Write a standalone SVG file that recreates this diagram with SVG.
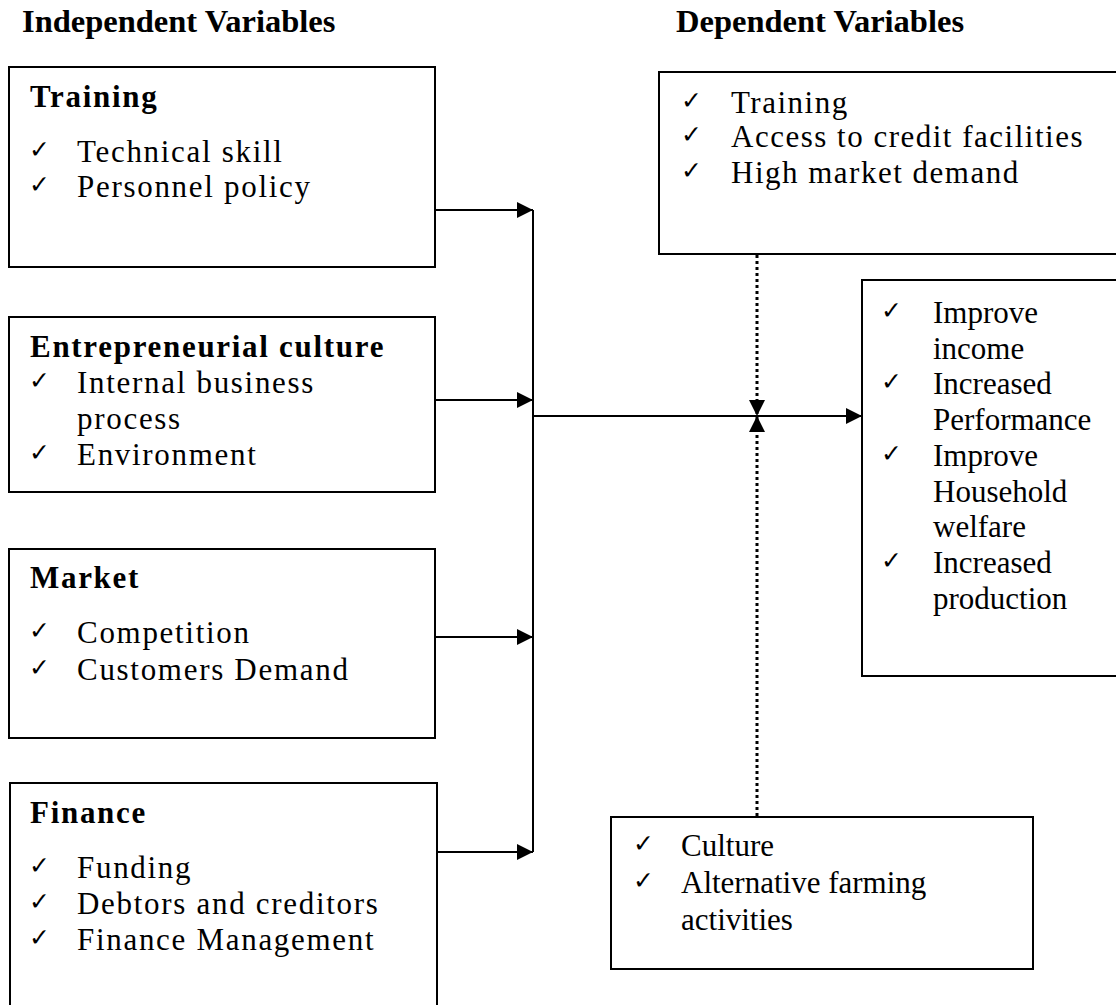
<svg xmlns="http://www.w3.org/2000/svg" width="1116" height="1005" viewBox="0 0 1116 1005">
<defs>
<style>
.box{fill:#fff;stroke:#000;stroke-width:2}
.t{font-family:"Liberation Serif","Times New Roman",serif;font-size:31px;fill:#000}
.sp{letter-spacing:1.7px}
.sp2{letter-spacing:1.5px}
.b{font-weight:bold}
.h{font-family:"Liberation Serif","Times New Roman",serif;font-size:32.5px;font-weight:bold;fill:#000}
.ck{font-family:"DejaVu Sans",sans-serif;font-size:25px;font-weight:bold;fill:#000}
.ln{stroke:#000;stroke-width:2;fill:none}
.dot{stroke:#000;stroke-width:3;stroke-dasharray:3 3;fill:none}
</style>
<marker id="ah" viewBox="0 0 16 16" refX="16" refY="8" markerWidth="16" markerHeight="16" markerUnits="userSpaceOnUse" orient="auto">
<path d="M0,0 L16,8 L0,16 Z" fill="#000"/>
</marker>
</defs>
<rect width="1116" height="1005" fill="#fff"/>
<text class="h" x="22" y="32">Independent Variables</text>
<text class="h" x="676" y="32">Dependent Variables</text>

<g id="training">
<rect class="box" x="9" y="67" width="426" height="200"/>
<text class="t b sp" x="30" y="107">Training</text>
<text class="ck" x="29" y="158">✓</text><text class="t sp" x="77" y="162">Technical skill</text>
<text class="ck" x="29" y="193">✓</text><text class="t sp" x="77" y="197">Personnel policy</text>
</g>

<g id="entrepreneurial">
<rect class="box" x="9" y="317" width="426" height="175"/>
<text class="t b sp" x="30" y="357">Entrepreneurial culture</text>
<text class="ck" x="29" y="389">✓</text><text class="t sp" x="77" y="393">Internal business</text>
<text class="t sp" x="77" y="429">process</text>
<text class="ck" x="29" y="461">✓</text><text class="t sp" x="77" y="465">Environment</text>
</g>

<g id="market">
<rect class="box" x="9" y="549" width="426" height="189"/>
<text class="t b sp" x="30" y="588">Market</text>
<text class="ck" x="29" y="639">✓</text><text class="t sp" x="77" y="643">Competition</text>
<text class="ck" x="29" y="676">✓</text><text class="t sp" x="77" y="680">Customers Demand</text>
</g>

<g id="finance">
<rect class="box" x="10" y="783" width="427" height="240"/>
<text class="t b sp" x="30" y="823">Finance</text>
<text class="ck" x="29" y="874">✓</text><text class="t sp" x="77" y="878">Funding</text>
<text class="ck" x="29" y="910">✓</text><text class="t sp" x="77" y="914">Debtors and creditors</text>
<text class="ck" x="29" y="946">✓</text><text class="t sp" x="77" y="950">Finance Management</text>
</g>

<g id="moderators">
<rect class="box" x="659" y="72" width="470" height="182"/>
<text class="ck" x="681" y="109">✓</text><text class="t sp2" x="731" y="113">Training</text>
<text class="ck" x="681" y="143">✓</text><text class="t sp2" x="731" y="147">Access to credit facilities</text>
<text class="ck" x="681" y="179">✓</text><text class="t sp2" x="731" y="183">High market demand</text>
</g>

<g id="outcomes">
<rect class="box" x="862" y="280" width="270" height="396"/>
<text class="ck" x="881" y="319">✓</text><text class="t" x="933" y="323">Improve</text>
<text class="t" x="933" y="359">income</text>
<text class="ck" x="881" y="390">✓</text><text class="t" x="933" y="394">Increased</text>
<text class="t" x="933" y="430">Performance</text>
<text class="ck" x="881" y="462">✓</text><text class="t" x="933" y="466">Improve</text>
<text class="t" x="933" y="502">Household</text>
<text class="t" x="933" y="537">welfare</text>
<text class="ck" x="881" y="569">✓</text><text class="t" x="933" y="573">Increased</text>
<text class="t" x="933" y="609">production</text>
</g>

<g id="intervening">
<rect class="box" x="611" y="817" width="422" height="152"/>
<text class="ck" x="633" y="852">✓</text><text class="t" x="681" y="856">Culture</text>
<text class="ck" x="633" y="889">✓</text><text class="t" x="681" y="893">Alternative farming</text>
<text class="t" x="681" y="930">activities</text>
</g>

<g id="connectors">
<line class="ln" x1="533" y1="210" x2="533" y2="852"/>
<line class="ln" x1="435" y1="210" x2="533" y2="210" marker-end="url(#ah)"/>
<line class="ln" x1="435" y1="400" x2="533" y2="400" marker-end="url(#ah)"/>
<line class="ln" x1="435" y1="637" x2="533" y2="637" marker-end="url(#ah)"/>
<line class="ln" x1="437" y1="852" x2="533" y2="852" marker-end="url(#ah)"/>
<line class="ln" x1="533" y1="416" x2="862" y2="416" marker-end="url(#ah)"/>
<line class="dot" x1="757" y1="255" x2="757" y2="416" marker-end="url(#ah)"/>
<line class="dot" x1="757" y1="816" x2="757" y2="416" marker-end="url(#ah)"/>
</g>
</svg>
